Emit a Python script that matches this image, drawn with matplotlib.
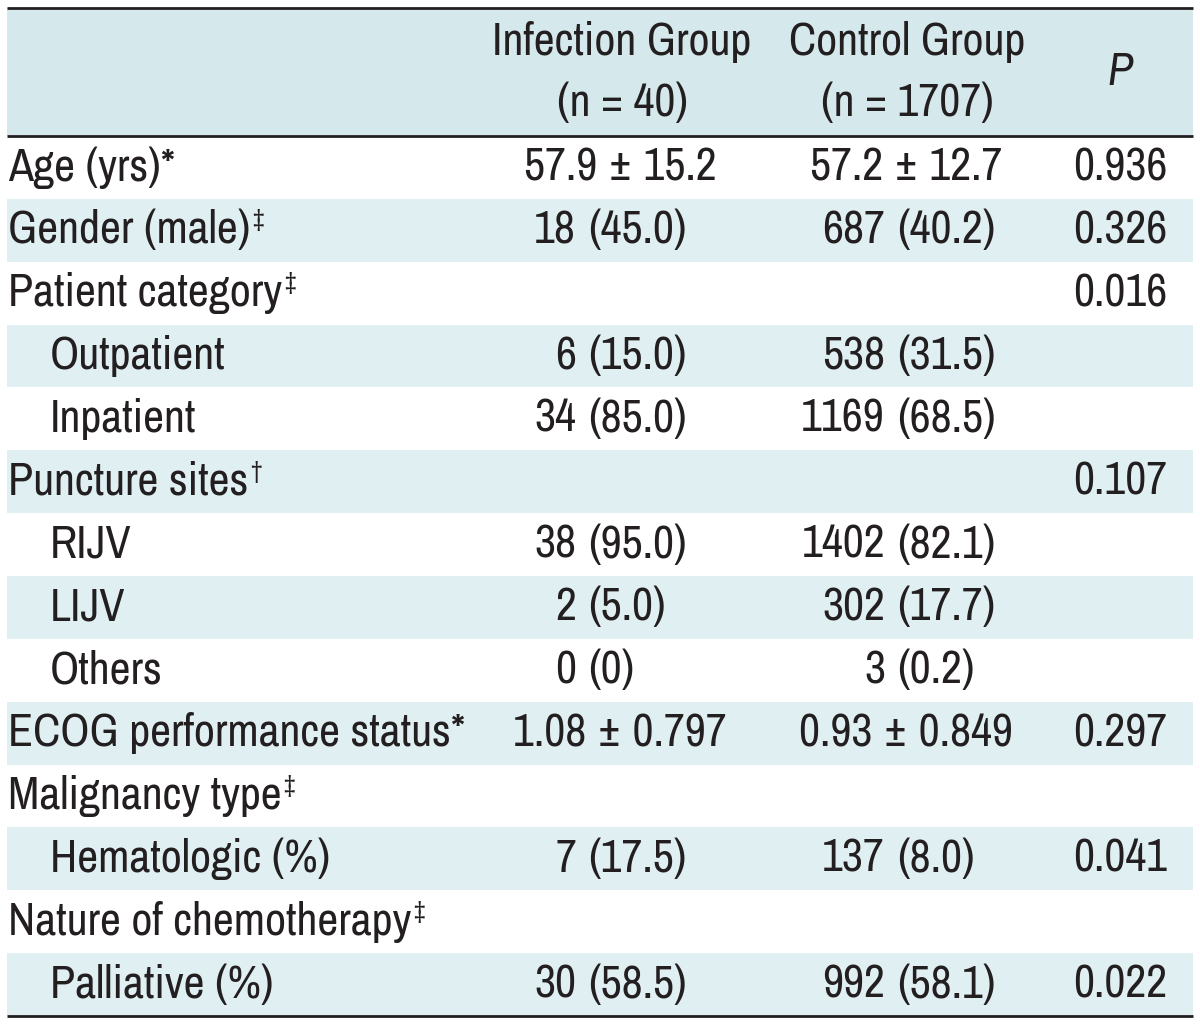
import matplotlib
matplotlib.use("Agg")
import matplotlib.pyplot as plt
from matplotlib import font_manager

# table content
labels = ["Age (yrs)*", "Gender (male)", "Patient category", "Outpatient", "Inpatient",
          "Puncture sites", "RIJV", "LIJV", "Others", "ECOG performance status*",
          "Malignancy type", "Hematologic (%)", "Nature of chemotherapy", "Palliative (%)"]
marks = ["", "‡", "‡", "", "", "†", "", "", "", "", "‡", "", "‡", ""]
indented = [0, 0, 0, 1, 1, 0, 1, 1, 1, 0, 0, 1, 0, 1]
infection = ["57.9 ± 15.2", "18 (45.0)", "", "6 (15.0)", "34 (85.0)", "", "38 (95.0)",
             "2 (5.0)", "0 (0)", "1.08 ± 0.797", "", "7 (17.5)", "", "30 (58.5)"]
control = ["57.2 ± 12.7", "687 (40.2)", "", "538 (31.5)", "1169 (68.5)", "", "1402 (82.1)",
           "302 (17.7)", "3 (0.2)", "0.93 ± 0.849", "", "137 (8.0)", "", "992 (58.1)"]
p_values = ["0.936", "0.326", "0.016", "", "", "0.107", "", "", "", "0.297", "",
            "0.041", "", "0.022"]
headers = ["Infection Group\n(n = 40)", "Control Group\n(n = 1707)"]

INK = "#231f20"
HEAD_BG = "#d5e8ec"
BAND_BG = "#e0eff2"

# look for a narrow face, the original uses a condensed sans
fonts = font_manager.fontManager.ttflist
narrow = [f.name for f in fonts if "Narrow" in f.name or "Condensed" in f.name]
dejavu_cond = [f for f in fonts if f.name == "DejaVu Sans" and f.stretch == "condensed"]
STRETCH = "normal"
if narrow:
    FONT, FS = narrow[0], 33
elif dejavu_cond:
    FONT, FS, STRETCH = "DejaVu Sans", 28, "condensed"
else:
    FONT, FS = "DejaVu Sans", 25
plt.rcParams["font.family"] = [FONT, "DejaVu Sans"]
plt.rcParams["font.stretch"] = STRETCH
plt.rcParams["font.weight"] = "light"


def cell(ax, text, y, center, count_right, paren_left):
    if not text:
        return
    if " (" in text:
        count, rest = text.split(" ", 1)
        ax.text(count_right, y, count, ha="right", va="center", fontsize=FS, color=INK)
        ax.text(paren_left, y, rest, ha="left", va="center", fontsize=FS, color=INK)
    else:
        ax.text(center, y, text, ha="center", va="center", fontsize=FS, color=INK)


def main():
    fig = plt.figure(figsize=(12, 10.24), dpi=100)
    ax = fig.add_axes([0, 0, 1, 1])
    ax.set_xlim(0, 1200)
    ax.set_ylim(1024, 0)
    ax.axis("off")

    left, right = 7, 1193
    top, head_bottom, bottom = 8, 136, 1016
    row_h = (bottom - head_bottom) / len(labels)

    ax.add_patch(plt.Rectangle((left, top), right - left, head_bottom - top,
                               facecolor=HEAD_BG, edgecolor="none"))
    for i in range(len(labels)):
        if i % 2 == 1:
            y0 = head_bottom + i * row_h
            ax.add_patch(plt.Rectangle((left, y0), right - left, row_h,
                                       facecolor=BAND_BG, edgecolor="none"))
    for yl in (top, head_bottom, bottom):
        ax.plot([left, right], [yl, yl], color=INK, lw=2, solid_capstyle="butt")

    # header
    for x, h in zip([622, 907], headers):
        l1, l2 = h.split("\n")
        ax.text(x, 42, l1, ha="center", va="center", fontsize=FS, color=INK)
        ax.text(x, 103, l2, ha="center", va="center", fontsize=FS, color=INK)
    ax.text(1120, 72, "P", ha="center", va="center", fontsize=FS, color=INK, style="italic")

    renderer = fig.canvas.get_renderer()
    inv = ax.transData.inverted()
    for i, lab in enumerate(labels):
        yc = head_bottom + (i + 0.5) * row_h
        x = 50 if indented[i] else 8
        t = ax.text(x, yc, lab, ha="left", va="center", fontsize=FS, color=INK)
        if marks[i]:
            bb = t.get_window_extent(renderer)
            x1 = inv.transform((bb.x1, bb.y1))[0]
            ax.text(x1 + 2, yc - 3, marks[i], ha="left", va="baseline",
                    fontsize=FS * 0.55, color=INK)
        cell(ax, infection[i], yc, 620, 576, 588)
        cell(ax, control[i], yc, 906, 885, 897)
        if p_values[i]:
            ax.text(1120, yc, p_values[i], ha="center", va="center", fontsize=FS, color=INK)

    fig.savefig("out.png", dpi=100, facecolor="white")


if __name__ == '__main__':
    main()
